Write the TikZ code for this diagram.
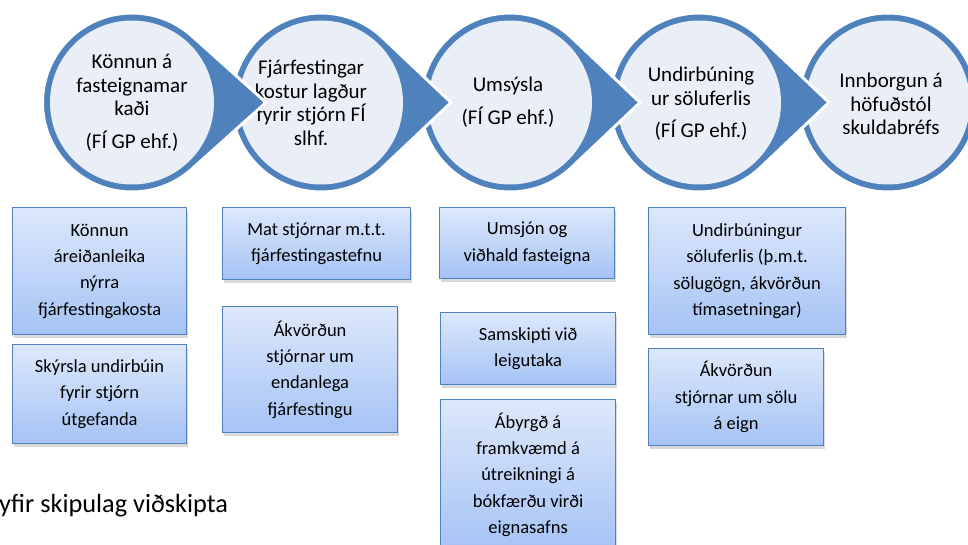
\documentclass[tikz,border=0pt]{standalone}
\usepackage{fontspec}
\setmainfont{Carlito}
\usetikzlibrary{shadows}
\definecolor{ringblue}{HTML}{4F81BD}
\definecolor{discfill}{HTML}{EAEFF7}
\definecolor{boxtop}{HTML}{DDE8FB}
\definecolor{boxbot}{HTML}{A5C3F5}

\begin{document}
\begin{tikzpicture}[x=1pt,y=-1pt,
  stage/.style={font=\fontsize{21}{23.5}\selectfont,align=center,inner sep=0pt},
  task/.style={draw=ringblue,line width=1.2pt,top color=boxtop,bottom color=boxbot,
    font=\fontsize{18.5}{26.3}\selectfont,align=center,anchor=north west,inner sep=0pt,
    drop shadow={shadow xshift=1pt,shadow yshift=-3pt,opacity=.3}},
  tear/.style={fill=ringblue,draw=white,line width=3pt}]
 \useasboundingbox(0,0)rectangle(968,545);
 \clip(0,0)rectangle(968,545);
 % stages, drawn right to left so each tip lies on the next disc
 \path[tear](888,102.5)circle[radius=89.5];
 \fill[discfill](888,102.5)circle[radius=82];
 \node[stage](c5)at(891,104){Innborgun á\\höfuðstól\\skuldabréfs};
 \path[tear](699,102.5)++(47:89.5)arc[start angle=47,end angle=313,radius=89.5]--(829,102.5)--cycle;
 \fill[discfill](699,102.5)circle[radius=82];
 \node[stage](c4)at(701,104){Undirbúning\\ur söluferlis\\[9pt](FÍ GP ehf.)};
 \path[tear](510,102.5)++(47:89.5)arc[start angle=47,end angle=313,radius=89.5]--(640,102.5)--cycle;
 \fill[discfill](510,102.5)circle[radius=82];
 \node[stage](c3)at(508,102){Umsýsla\\[9pt](FÍ GP ehf.)};
 \path[tear](321,102.5)++(47:89.5)arc[start angle=47,end angle=313,radius=89.5]--(451,102.5)--cycle;
 \fill[discfill](321,102.5)circle[radius=82];
 \node[stage](c2)at(311,103){Fjárfestingar\\kostur lagður\\fyrir stjórn FÍ\\slhf.};
 \path[tear](132,102.5)++(48:89.5)arc[start angle=48,end angle=312,radius=89.5]--(266,102.5)--cycle;
 \fill[discfill](132,102.5)circle[radius=82];
 \node[stage](c1)at(132,103){Könnun á\\fasteignamar\\kaði\\[9pt](FÍ GP ehf.)};
 % tasks under each stage
 \node[task,minimum width=174,minimum height=127](b1a)at(12,207){Könnun\\áreiðanleika\\nýrra\\fjárfestingakosta};
 \node[task,minimum width=174,minimum height=99](b1b)at(12,344){Skýrsla undirbúin\\fyrir stjórn\\útgefanda};
 \node[task,minimum width=188,minimum height=72](b2a)at(222,207){Mat stjórnar m.t.t.\\fjárfestingastefnu};
 \node[task,minimum width=175,minimum height=126](b2b)at(222,306){Ákvörðun\\stjórnar um\\endanlega\\fjárfestingu};
 \node[task,minimum width=175,minimum height=71](b3a)at(439,207){Umsjón og\\viðhald fasteigna};
 \node[task,minimum width=175,minimum height=72](b3b)at(440,312){Samskipti við\\leigutaka};
 \node[task,minimum width=175,minimum height=150](b3c)at(440,399){Ábyrgð á\\framkvæmd á\\útreikningi á\\bókfærðu virði\\eignasafns};
 \node[task,minimum width=197,minimum height=127](b4a)at(648,207){Undirbúningur\\söluferlis (þ.m.t.\\sölugögn, ákvörðun\\tímasetningar)};
 \node[task,minimum width=175,minimum height=97](b4b)at(648,348){Ákvörðun\\stjórnar um sölu\\á eign};
 \node[font=\fontsize{26.3}{30}\selectfont,anchor=base west,inner sep=0pt](caption)at(-1,512){yfir skipulag viðskipta};
\end{tikzpicture}
\end{document}
